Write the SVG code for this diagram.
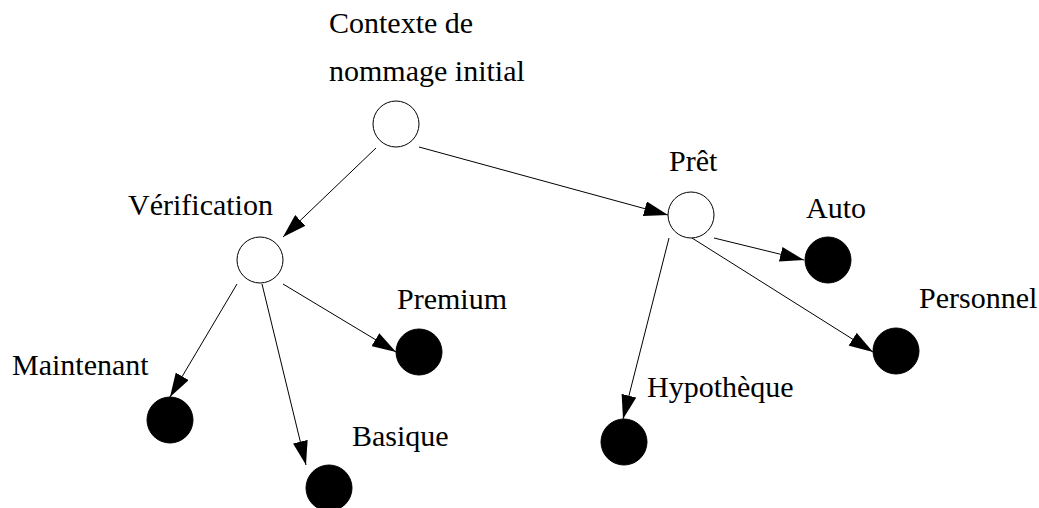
<svg xmlns="http://www.w3.org/2000/svg" width="1039" height="508" viewBox="0 0 1039 508">
<style>
.lbl{font-family:"Liberation Serif","Times New Roman",serif;font-size:30px;fill:#000}
.open{fill:#fff;stroke:#000;stroke-width:1}
.full{fill:#000;stroke:#000;stroke-width:1}
.edge{stroke:#000;stroke-width:1;fill:none;marker-end:url(#ah)}
</style>
<defs>
<marker id="ah" markerUnits="userSpaceOnUse" markerWidth="24" markerHeight="15" refX="24" refY="7.5" orient="auto">
<path d="M0,0 L24,7.5 L0,15 z" fill="#000"/>
</marker>
</defs>
<rect width="1039" height="508" fill="#fff"/>
<g id="connectors">
<line class="edge" x1="376" y1="148" x2="283" y2="237"/>
<line class="edge" x1="419" y1="147" x2="668" y2="215"/>
<line class="edge" x1="237" y1="284" x2="170" y2="397"/>
<line class="edge" x1="262" y1="284" x2="306" y2="465"/>
<line class="edge" x1="283" y1="284" x2="396" y2="352"/>
<line class="edge" x1="669" y1="238" x2="623" y2="419"/>
<line class="edge" x1="692" y1="238" x2="873" y2="352"/>
<line class="edge" x1="714" y1="238" x2="804" y2="260"/>
</g>
<g id="root">
<circle class="open" cx="396" cy="124" r="23"/>
<text class="lbl" x="329" y="33">Contexte de</text>
<text class="lbl" x="329" y="81">nommage initial</text>
</g>
<g id="verification">
<circle class="open" cx="260" cy="260" r="23"/>
<text class="lbl" x="128" y="215">Vérification</text>
</g>
<g id="pret">
<circle class="open" cx="691" cy="215" r="23"/>
<text class="lbl" x="669" y="171">Prêt</text>
</g>
<g id="maintenant">
<circle class="full" cx="170" cy="420" r="23"/>
<text class="lbl" x="12" y="375">Maintenant</text>
</g>
<g id="basique">
<circle class="full" cx="329" cy="488" r="23"/>
<text class="lbl" x="352" y="446">Basique</text>
</g>
<g id="premium">
<circle class="full" cx="419" cy="352" r="23"/>
<text class="lbl" x="397" y="309">Premium</text>
</g>
<g id="hypotheque">
<circle class="full" cx="624" cy="442" r="23"/>
<text class="lbl" x="647" y="397">Hypothèque</text>
</g>
<g id="personnel">
<circle class="full" cx="896" cy="351" r="23"/>
<text class="lbl" x="919" y="308">Personnel</text>
</g>
<g id="auto">
<circle class="full" cx="828" cy="260" r="23"/>
<text class="lbl" x="806" y="218">Auto</text>
</g>
</svg>
